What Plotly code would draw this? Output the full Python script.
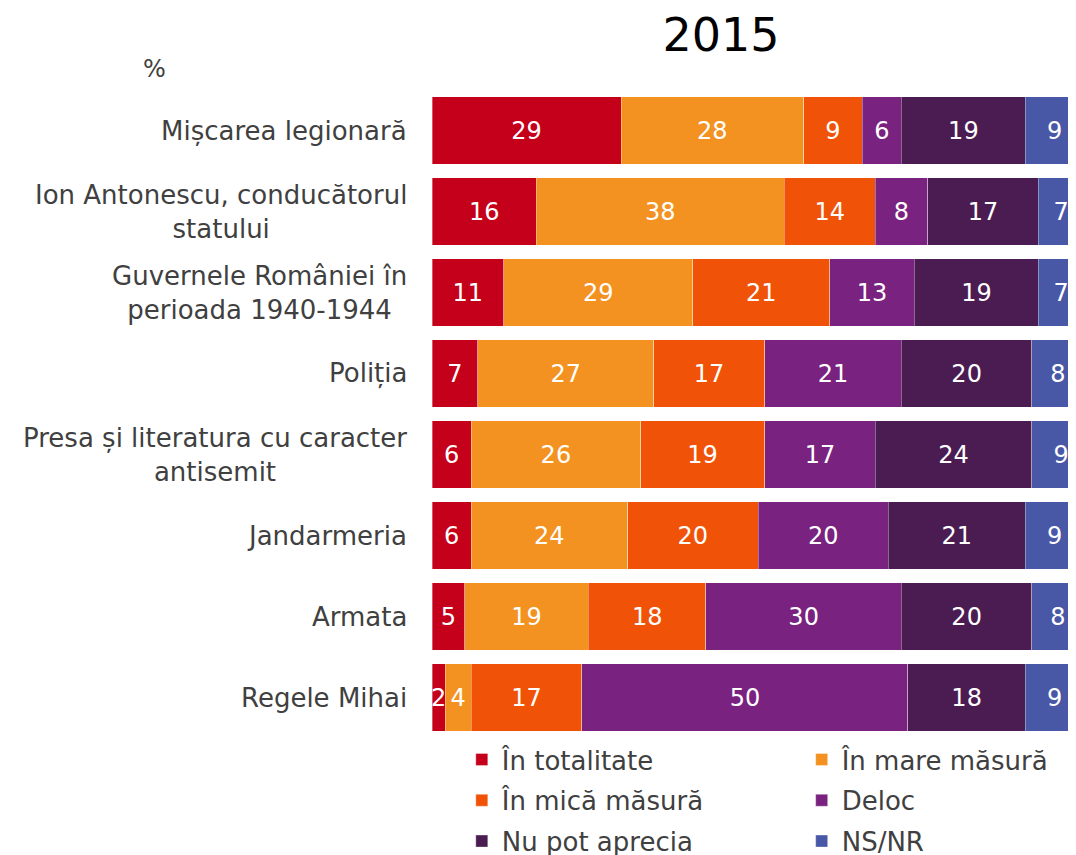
import plotly.graph_objects as go

categories = [
    "Mișcarea legionară",
    "Ion Antonescu, conducătorul<br>statului",
    "Guvernele României în<br>perioada 1940-1944",
    "Poliția",
    "Presa și literatura cu caracter<br>antisemit",
    "Jandarmeria",
    "Armata",
    "Regele Mihai",
]
series_names = ["În totalitate", "În mare măsură", "În mică măsură", "Deloc", "Nu pot aprecia", "NS/NR"]
in_totalitate = [29, 16, 11, 7, 6, 6, 5, 2]
in_mare_masura = [28, 38, 29, 27, 26, 24, 19, 4]
in_mica_masura = [9, 14, 21, 17, 19, 20, 18, 17]
deloc = [6, 8, 13, 21, 17, 20, 30, 50]
nu_pot_aprecia = [19, 17, 19, 20, 24, 21, 20, 18]
ns_nr = [9, 7, 7, 8, 9, 9, 8, 9]
series_values = [in_totalitate, in_mare_masura, in_mica_masura, deloc, nu_pot_aprecia, ns_nr]
colors = ["#C5001A", "#F39221", "#F05308", "#7A2280", "#4B1C52", "#4858A6"]

FONT = "DejaVu Sans"
TXT = "#404040"

fig = go.Figure()
for i, (name, vals, col) in enumerate(zip(series_names, series_values, colors)):
    fig.add_trace(go.Bar(
        y=categories, x=vals, name=name, orientation="h",
        marker=dict(color=col, line=dict(color="rgba(255,255,255,0.35)", width=1)),
        text=[str(v) for v in vals], textposition="inside", insidetextanchor="middle",
        constraintext="none",
        textfont=dict(family=FONT, size=24, color="white"),
        legend="legend" if i % 2 == 0 else "legend2",
        legendgroup="g%d" % i,
        hoverinfo="x+y+name",
    ))

for cat in categories:
    fig.add_annotation(
        x=-0.035, xref="paper", y=cat, yref="y", text=cat, showarrow=False,
        xanchor="right", yanchor="middle", align="center",
        font=dict(family=FONT, size=26, color=TXT),
    )

fig.add_annotation(
    x=-0.425, xref="paper", y=1.033, yref="paper", text="%", showarrow=False,
    xanchor="center", yanchor="middle", font=dict(family=FONT, size=24, color=TXT),
)

legend_common = dict(
    orientation="v", xanchor="left", yanchor="top", y=0.003,
    font=dict(family=FONT, size=26, color=TXT), bgcolor="rgba(0,0,0,0)",
    traceorder="grouped", tracegroupgap=4,
)

fig.update_layout(
    width=1076, height=855,
    margin=dict(l=424, r=0, t=81.5, b=125, autoexpand=False),
    paper_bgcolor="white", plot_bgcolor="white",
    barmode="stack", bargap=0.17,
    title=dict(text="2015", x=713 / 1076, xanchor="center", xref="container",
               y=1 - 27 / 855, yanchor="middle", yref="container",
               font=dict(family=FONT, size=46, color="black")),
    xaxis=dict(range=[0, 100], visible=False, fixedrange=True),
    yaxis=dict(categoryorder="array", categoryarray=categories, autorange="reversed",
               showticklabels=False, showgrid=False, zeroline=False, showline=False),
    legend=dict(x=0.0457, **legend_common),
    legend2=dict(x=0.567, **legend_common),
    uniformtext=dict(minsize=24, mode="show"),
    font=dict(family=FONT, color=TXT),
)

fig.write_html("out.html")
